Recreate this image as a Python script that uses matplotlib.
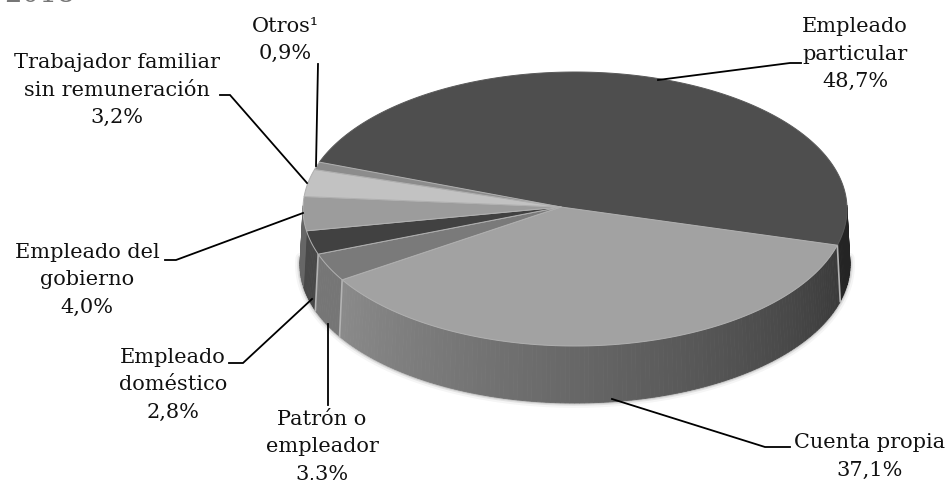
import numpy as np
import matplotlib
matplotlib.use("Agg")
import matplotlib.pyplot as plt

categories = ["Empleado\nparticular", "Cuenta propia", "Patrón o\nempleador", "Empleado\ndoméstico",
              "Empleado del\ngobierno", "Trabajador familiar\nsin remuneración", "Otros¹"]
values = [48.7, 37.1, 3.3, 2.8, 4.0, 3.2, 0.9]
value_labels = ["48,7%", "37,1%", "3,3%", "2,8%", "4,0%", "3,2%", "0,9%"]
top_colors = ["#4e4e4e", "#a2a2a2", "#7a7a7a", "#414141", "#9c9c9c", "#c2c2c2", "#8c8c8c"]
side_colors = ["#3a3a3a", "#7e7e7e", "#767676", "#484848", "#666666", "#909090", "#777777"]

# layout (pixels)
CX, CY, A, B = 575, 210, 272, 137
APEX = (561, 208)
DEPTH = 56
START = 160
text_xy = [(855, 27), (870, 443), (322, 420), (173, 358), (87, 253), (117, 63), (285, 26)]
leaders = [
    [(658, 81), (790, 64), (801, 64)],
    [(612, 400), (765, 448), (790, 448)],
    [(328, 325), (328, 406)],
    [(312, 300), (243, 364), (229, 364)],
    [(303, 214), (176, 261), (165, 261)],
    [(307, 184), (230, 96), (220, 96)],
    [(316, 167), (318, 65)],
]
LINE = 27


def rim(deg, dy=0.0, da=0.0, db=0.0):
    t = np.radians(deg)
    return CX + (A + da) * np.cos(t), CY + dy - (B + db) * np.sin(t)


def shade(color, t):
    c = np.array(matplotlib.colors.to_rgb(color))
    return np.clip(c * t, 0, 1)


fig = plt.figure(figsize=(9.52, 4.81), dpi=100)
ax = fig.add_axes([0, 0, 1, 1])
ax.set_xlim(0, 952)
ax.set_ylim(481, 0)
ax.axis("off")

fracs = np.array(values) / sum(values) * 360
edges = START - np.concatenate([[0], np.cumsum(fracs)])

# soft shadow round the wall
th = np.linspace(-183, 3, 200)
for w, al in ((7, .06), (4, .12), (2, .2)):
    x, y = rim(th, DEPTH, 3, 1)
    ax.plot(x, y, color="#555555", lw=w, alpha=al, zorder=1, solid_capstyle="round")

# side walls
for i, (a0, a1) in enumerate(zip(edges[:-1], edges[1:])):
    angs = np.linspace(a0, a1, max(2, int(abs(a1 - a0)) + 2))
    for p, q in zip(angs[:-1], angs[1:]):
        m = np.radians((p + q) / 2)
        if np.sin(m) > 0.03:
            continue
        s = 1.0
        if i == 1:   # gradient along the large wall: dark at right, light at left
            f = (a1 - (p + q) / 2) / (a1 - a0)
            s = 1.1 - 0.64 * f
        if i == 0:
            s = 0.62
        x0, y0 = rim(np.array([p, q]))
        x1, y1 = rim(np.array([q, p]), DEPTH, 3, 1)
        col = shade(side_colors[i], s)
        ax.fill(np.r_[x0, x1], np.r_[y0, y1], fc=col, ec=col, lw=.6, zorder=2)

# light seams on wall
for e in edges[1:4]:
    x0, y0 = rim(np.array([e]))
    x1, y1 = rim(np.array([e]), DEPTH, 3, 1)
    ax.plot([x0[0], x1[0]], [y0[0], y1[0]], color="#b4b4b4", lw=1.2, zorder=3)

# top slices
for i, (a0, a1) in enumerate(zip(edges[:-1], edges[1:])):
    angs = np.linspace(a0, a1, max(2, int(abs(a1 - a0)) * 2 + 2))
    x, y = rim(angs)
    ax.fill(np.r_[APEX[0], x], np.r_[APEX[1], y], fc=top_colors[i],
            ec="#b0b0b0" if i else "#5a5a5a", lw=.7, zorder=4 if i else 3.5, joinstyle="round")

# leaders
for pts in leaders:
    xs, ys = zip(*pts)
    ax.plot(xs, ys, color="black", lw=1.3, zorder=6, solid_joinstyle="miter")

# labels
for name, val, (x, y) in zip(categories, value_labels, text_xy):
    lines = name.split("\n") + [val]
    for k, ln in enumerate(lines):
        ax.text(x, y + k * LINE, ln, ha="center", va="center", fontsize=15,
                family="DejaVu Serif", color="#111111", zorder=7)

# heading cut off by the top edge, as in the source image
ax.text(4, 2, "2018", ha="left", va="baseline", fontsize=20, family="DejaVu Serif",
        color="#777777", zorder=7, clip_on=True)

fig.savefig("out.png", dpi=100)
